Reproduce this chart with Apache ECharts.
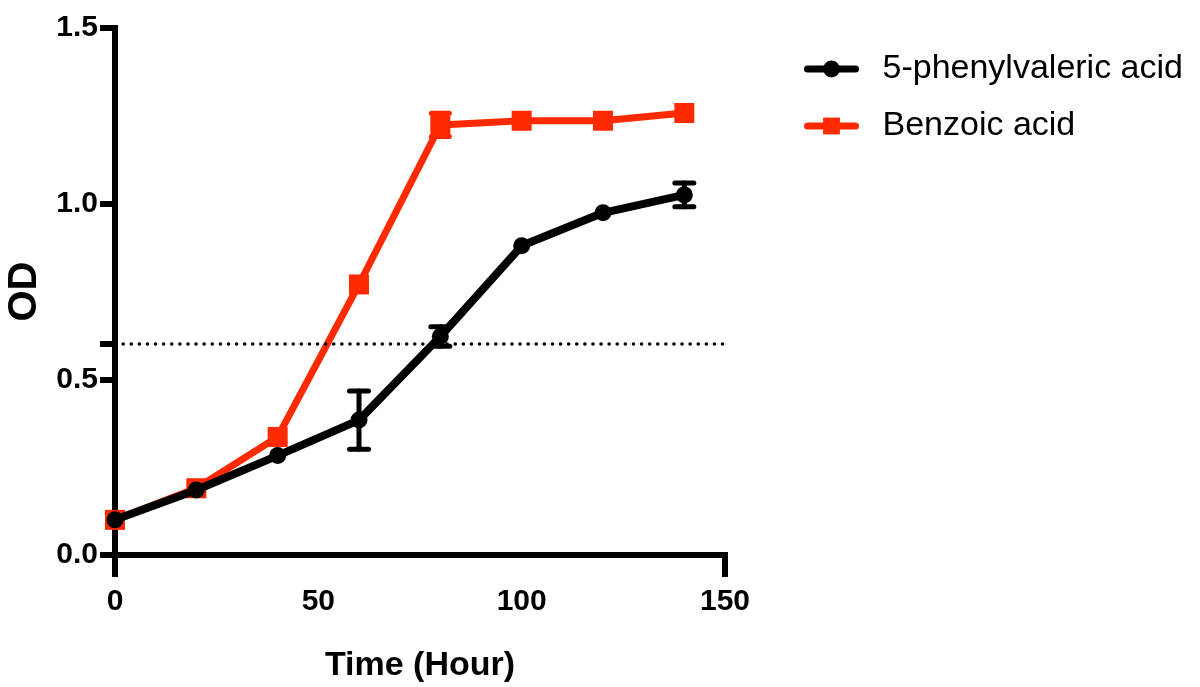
<!DOCTYPE html>
<html>
<head>
<meta charset="utf-8">
<script src="https://cdn.jsdelivr.net/npm/echarts@6/dist/echarts.min.js"></script>
<style>html,body{margin:0;padding:0;background:#fff}#c{width:1200px;height:687px}</style>
</head>
<body>
<div id="c"></div>
<script>
const timeHours = [0, 20, 40, 60, 80, 100, 120, 140];
const phenylvaleric = [0.10, 0.185, 0.283, 0.384, 0.622, 0.88, 0.974, 1.025];
const phenylvalericErr = [0, 0, 0, 0.083, 0.028, 0, 0, 0.034];
const benzoic = [0.10, 0.19, 0.336, 0.77, 1.224, 1.236, 1.236, 1.258];
const benzoicErr = [0, 0, 0, 0, 0.033, 0, 0, 0];
const threshold = 0.6;
const xTicks = [0, 50, 100, 150];
const yTicks = [0, 0.5, 1.0, 1.5];

const BLACK = '#000000';
const RED = '#FF2A00';
const FONT = '"Liberation Sans Narrow", "Liberation Sans", Arial, sans-serif';

function pts(ys) { return timeHours.map((t, i) => [t, ys[i]]); }
function errPts(ys, es) { return timeHours.map((t, i) => [t, ys[i], es[i]]).filter(d => d[2] > 0); }

function errRender(color, capW, lw) {
  return function (params, api) {
    const x = api.value(0), y = api.value(1), e = api.value(2);
    const top = api.coord([x, y + e]);
    const bot = api.coord([x, y - e]);
    const style = { stroke: color, lineWidth: lw, lineCap: 'round' };
    return {
      type: 'group',
      children: [
        { type: 'line', shape: { x1: top[0], y1: top[1], x2: bot[0], y2: bot[1] }, style: style },
        { type: 'line', shape: { x1: top[0] - capW / 2, y1: top[1], x2: top[0] + capW / 2, y2: top[1] }, style: style },
        { type: 'line', shape: { x1: bot[0] - capW / 2, y1: bot[1], x2: bot[0] + capW / 2, y2: bot[1] }, style: style }
      ]
    };
  };
}

const chart = echarts.init(document.getElementById('c'), null, { renderer: 'canvas' });
chart.setOption({
  animation: false,
  backgroundColor: '#fff',
  grid: { left: 115, right: 475, top: 28, bottom: 132, containLabel: false, outerBoundsMode: 'none' },
  legend: {
    orient: 'vertical',
    left: 799,
    top: 45,
    itemWidth: 48,
    itemHeight: 21,
    itemGap: 19,
    data: ['5-phenylvaleric acid', 'Benzoic acid'],
    lineStyle: { width: 7, cap: 'round' },
    textStyle: { fontFamily: FONT, fontSize: 34, color: '#000', lineHeight: 38, padding: [0, 0, 0, 22] }
  },
  xAxis: {
    type: 'value', min: 0, max: 150, interval: 50,
    name: 'Time (Hour)', nameLocation: 'middle', nameGap: 94,
    nameTextStyle: { fontFamily: FONT, fontWeight: 'bold', fontSize: 34, color: '#000' },
    axisLine: { lineStyle: { color: BLACK, width: 6, cap: 'square' } },
    axisTick: { show: true, length: 22, customValues: [0, 150], lineStyle: { color: BLACK, width: 6 } },
    axisLabel: { customValues: xTicks, margin: 32, fontFamily: FONT, fontWeight: 'bold', fontSize: 30, color: '#000' },
    splitLine: { show: false }
  },
  yAxis: [{
    type: 'value', min: 0, max: 1.5, interval: 0.5,
    name: 'OD', nameLocation: 'middle', nameGap: 69, nameRotate: 90,
    nameTextStyle: { fontFamily: FONT, fontWeight: 'bold', fontSize: 40, color: '#000' },
    axisLine: { lineStyle: { color: BLACK, width: 6, cap: 'square' } },
    axisTick: { show: true, length: 15, customValues: yTicks, lineStyle: { color: BLACK, width: 6 } },
    axisLabel: { customValues: yTicks, margin: 17, fontFamily: FONT, fontWeight: 'bold', fontSize: 30, color: '#000',
      formatter: v => Number(v).toFixed(1) },
    splitLine: { show: false }
  }, {
    type: 'value', min: 0, max: 1.5, interval: 0.5, position: 'left',
    axisLine: { show: false },
    axisTick: { show: true, length: 15, customValues: [threshold], lineStyle: { color: BLACK, width: 6 } },
    axisLabel: { show: false },
    splitLine: { show: false }
  }],
  series: [
    {
      name: 'Benzoic acid', type: 'line', data: pts(benzoic), z: 2,
      symbol: 'rect', symbolSize: 20,
      lineStyle: { color: RED, width: 7 }, itemStyle: { color: RED },
      markLine: {
        silent: true, symbol: 'none', label: { show: false },
        lineStyle: { color: BLACK, width: 3.5, type: [0.1, 8], cap: 'round' },
        data: [{ yAxis: threshold }]
      }
    },
    {
      name: 'benzoicErr', type: 'custom', data: errPts(benzoic, benzoicErr), z: 2,
      renderItem: errRender(RED, 18, 5), encode: { x: 0, y: 1 }
    },
    {
      name: '5-phenylvaleric acid', type: 'line', data: pts(phenylvaleric), z: 3,
      symbol: 'circle', symbolSize: 17,
      lineStyle: { color: BLACK, width: 8 }, itemStyle: { color: BLACK }
    },
    {
      name: 'phenylErr', type: 'custom', data: errPts(phenylvaleric, phenylvalericErr), z: 3,
      renderItem: errRender(BLACK, 19, 5), encode: { x: 0, y: 1 }
    }
  ]
});
</script>
</body>
</html>
